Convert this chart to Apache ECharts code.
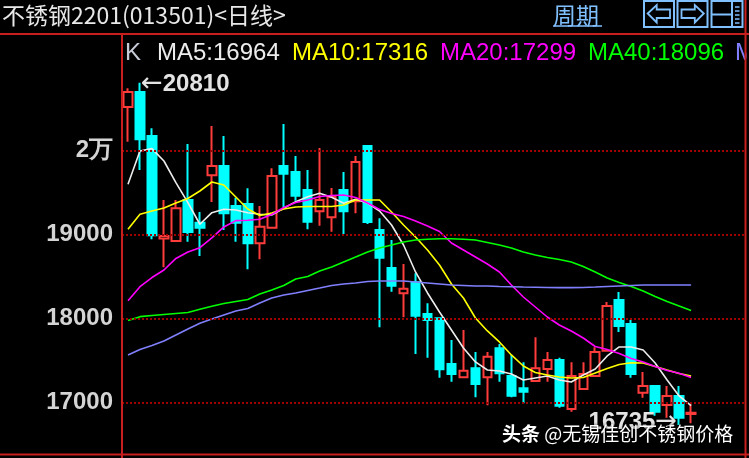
<!DOCTYPE html>
<html><head><meta charset="utf-8">
<script src="https://cdn.jsdelivr.net/npm/echarts@6/dist/echarts.min.js"></script>
<style>html,body{margin:0;padding:0;background:#000;}#c{width:749px;height:458px;}</style>
</head><body><div id="c"></div>
<script>
const titleText = '不锈钢2201(013501)<日线>';
const periodText = '周期';
const watermarkBold = '头条';
const watermarkText = ' @无锡佳创不锈钢价格';
// [open, close, lowest, highest]
const ohlc = [
  [20520,20699,20107,20743],[20699,20136,19770,20810],[20175,18993,18945,20267],[18955,18985,18612,19413],
  [18925,19314,18920,19413],[19413,19032,18917,20080],[19143,19083,18746,19270],[19707,19818,19389,20294],
  [19818,19255,19056,20175],[19342,19143,18917,19440],[19365,18898,18588,19552],[18898,19095,18707,19342],
  [19083,19699,19083,19790],[19818,19726,19326,20318],[19746,19464,19405,19937],[19532,19155,19064,19770],
  [19279,19413,19107,20032],[19207,19452,19036,19556],[19532,19279,19008,19746],[19398,19865,19255,19937],
  [20056,19151,19127,20056],[19056,18726,17898,19195],[18604,18393,18321,18937],[18302,18357,18017,18651],
  [18433,18036,17580,18540],[18056,17985,17536,18183],[18005,17398,17298,18005],[17461,17342,17250,17746],
  [17302,17381,17302,17865],[17410,17223,17064,17603],[17302,17548,16969,17603],[17648,17350,17250,17699],
  [17318,17083,17064,17568],[17171,17131,16993,17481],[17258,17410,17258,17779],[17401,17508,17250,17603],
  [17508,16964,16940,17536],[16925,17318,16893,17481],[17163,17342,17163,17481],[17318,17603,17318,17660],
  [17619,18151,17619,18199],[18223,17913,17842,18318],[17937,17342,17298,17985],[17119,17199,17060,17365],
  [17199,16893,16845,17199],[16973,17080,16821,17199],[17080,16821,16735,17199],[16865,16880,16755,16981]
];
const ma5 = [19600,19996,20024,19877,19619,19381,19124,19262,19302,19294,19262,19243,19235,19314,19393,19452,
  19493,19445,19374,19421,19377,19282,19115,18877,18556,18306,18079,17865,17651,17485,17389,17377,
  17342,17270,17294,17318,17270,17246,17330,17401,17556,17663,17663,17627,17473,17270,17080,16964];
const ma10 = [19064,19243,19282,19318,19377,19431,19520,19627,19592,19449,19306,19229,19258,19306,19330,19336,
  19336,19336,19354,19413,19413,19413,19270,19115,18973,18818,18639,18413,18246,18008,17854,17723,
  17568,17437,17360,17330,17306,17294,17300,17353,17407,17455,17476,17473,17431,17389,17348,17316];
const ma20 = [18214,18381,18490,18580,18717,18794,18845,18961,19092,19167,19171,19183,19240,19324,19383,19413,
  19455,19467,19473,19443,19377,19300,19252,19217,19163,19104,19038,18901,18818,18735,18651,18556,
  18401,18258,18139,18020,17925,17854,17770,17669,17633,17586,17526,17485,17431,17383,17350,17299];
const ma40 = [17979,18024,18038,18050,18062,18074,18112,18148,18181,18205,18229,18294,18342,18395,18473,18502,
  18568,18615,18675,18735,18794,18842,18877,18913,18937,18945,18952,18952,18945,18937,18907,18877,
  18842,18794,18758,18729,18705,18675,18621,18556,18485,18431,18383,18330,18264,18205,18151,18096];
const ma60 = [17568,17633,17681,17735,17806,17877,17945,17996,18044,18092,18121,18187,18246,18282,18306,18336,
  18365,18395,18413,18425,18443,18449,18449,18449,18437,18425,18413,18401,18395,18389,18389,18383,
  18380,18377,18375,18372,18370,18370,18372,18377,18383,18389,18395,18401,18401,18401,18401,18401];
const tickValues = [17000, 18000, 19000, 20000];
const tickLabels = ['17000', '18000', '19000', '2万'];
const maNames = ['MA5', 'MA10', 'MA20', 'MA40', 'MA60'];
const emptySlots = ['e1', 'e2', 'e3', 'e4'];
const categories = ohlc.map((d, i) => 'k' + (i + 1)).concat(emptySlots);

const maColors = ['#ececec', '#ffff00', '#ff00ff', '#00ff00', '#8080ff'];
const maData = [ma5, ma10, ma20, ma40, ma60];
const legendX = [157, 292, 440, 588, 735];
const RED = '#c81e1e';
const BLUE = '#80c0ff';

const chart = echarts.init(document.getElementById('c'), null, {renderer: 'canvas'});

const graphics = [];
// title
graphics.push({type: 'text', z: 100, style: {text: titleText, x: 2, y: 15, fill: '#e8e8e8',
  font: '23px "Noto Sans CJK SC"', textAlign: 'left', textVerticalAlign: 'middle', align: 'left', verticalAlign: 'middle'}});
graphics.push({type: 'text', z: 100, style: {text: periodText, x: 553, y: 15, fill: BLUE,
  font: '23px "Noto Sans CJK SC"', textAlign: 'left', textVerticalAlign: 'middle', align: 'left', verticalAlign: 'middle'}});
graphics.push({type: 'line', z: 100, shape: {x1: 553, y1: 26, x2: 602, y2: 26}, style: {stroke: BLUE, lineWidth: 1.5}});
// buttons
[[644, 30], [677.5, 30], [711.5, 31]].forEach(b => {
  graphics.push({type: 'rect', z: 100, shape: {x: b[0], y: 1, width: b[1], height: 26}, style: {fill: 'none', stroke: BLUE, lineWidth: 2}});
});
graphics.push({type: 'polygon', z: 100, shape: {points: [[647.7,13.5],[656.7,5],[656.7,9.5],[670,9.5],[670,18],[656.7,18],[656.7,22.5]]},
  style: {fill: 'none', stroke: BLUE, lineWidth: 1.8}});
graphics.push({type: 'polygon', z: 100, shape: {points: [[703.8,13.5],[694.8,5],[694.8,9.5],[681.5,9.5],[681.5,18],[694.8,18],[694.8,22.5]]},
  style: {fill: 'none', stroke: BLUE, lineWidth: 1.8}});
graphics.push({type: 'line', z: 100, shape: {x1: 712, y1: 14.5, x2: 732, y2: 14.5}, style: {stroke: BLUE, lineWidth: 2}});
graphics.push({type: 'line', z: 100, shape: {x1: 732, y1: 1, x2: 732, y2: 27}, style: {stroke: BLUE, lineWidth: 2}});
[7, 11, 15, 19, 23].forEach(yy => {
  graphics.push({type: 'line', z: 100, shape: {x1: 735, y1: yy, x2: 739.5, y2: yy}, style: {stroke: BLUE, lineWidth: 1.5}});
});
// legend
graphics.push({type: 'text', z: 100, style: {text: 'K', x: 125, y: 53, fill: '#c8ccd8',
  font: '24px "Liberation Sans"', textAlign: 'left', textVerticalAlign: 'middle', align: 'left', verticalAlign: 'middle'}});
maNames.forEach((n, i) => {
  const arr = maData[i];
  graphics.push({type: 'text', z: 100, style: {text: n + ':' + arr[arr.length - 1], x: legendX[i], y: 53, fill: maColors[i],
    font: '24px "Liberation Sans"', textAlign: 'left', textVerticalAlign: 'middle', align: 'left', verticalAlign: 'middle'}});
});
// watermark
graphics.push({type: 'text', z: 120, style: {
  text: '{b|' + watermarkBold + '}{n|' + watermarkText + '}', x: 502, y: 434,
  textAlign: 'left', textVerticalAlign: 'middle', align: 'left', verticalAlign: 'middle',
  rich: {
    b: {fontFamily: 'Noto Sans CJK SC', fontSize: 19, fontWeight: 'bold', fill: '#ffffff', color: '#ffffff',
        textShadowColor: 'rgba(0,0,0,0.9)', textShadowBlur: 3},
    n: {fontFamily: 'Noto Sans CJK SC', fontSize: 19, fill: '#ffffff', color: '#ffffff',
        textShadowColor: 'rgba(0,0,0,0.9)', textShadowBlur: 3}
  }}});
// frame
graphics.push({type: 'rect', z: 110, shape: {x: 746.5, y: 35, width: 3, height: 418}, style: {fill: '#000'}});
graphics.push({type: 'line', z: 130, shape: {x1: 0, y1: 34, x2: 749, y2: 34}, style: {stroke: RED, lineWidth: 2}});
graphics.push({type: 'line', z: 130, shape: {x1: 0, y1: 454.5, x2: 749, y2: 454.5}, style: {stroke: RED, lineWidth: 2}});
graphics.push({type: 'line', z: 130, shape: {x1: 122, y1: 34, x2: 122, y2: 458}, style: {stroke: RED, lineWidth: 2}});
graphics.push({type: 'line', z: 130, shape: {x1: 745.5, y1: 0, x2: 745.5, y2: 458}, style: {stroke: RED, lineWidth: 2}});

const extremeLabelStyle = {
  v: {color: '#e4e4e4', fontFamily: 'Liberation Sans', fontSize: 24, fontWeight: 'bold'},
  a: {color: '#e4e4e4', fontFamily: 'DejaVu Sans', fontSize: 26, fontWeight: 'normal'}
};

const series = [
  {
    type: 'line', data: [], z: 1, silent: true,
    markLine: {
      silent: true, symbol: ['none', 'none'], animation: false,
      lineStyle: {color: '#a00000', type: [2, 2], width: 2},
      label: {show: true, position: 'start', distance: 9, color: '#d4d4d4',
        fontFamily: 'Liberation Sans', fontSize: 24, fontWeight: 'bold',
        formatter: p => tickLabels[tickValues.indexOf(p.value)]},
      data: tickValues.map(v => ({yAxis: v}))
    }
  },
  {
    type: 'candlestick', data: ohlc, z: 2, barWidth: 9,
    itemStyle: {color: '#000000', color0: '#00ffff', borderColor: '#ff3c3c', borderColor0: '#00ffff', borderWidth: 2},
    markPoint: {
      symbol: 'circle', symbolSize: 2, itemStyle: {color: 'transparent'}, animation: false,
      label: {show: true, rich: extremeLabelStyle},
      data: [
        {type: 'max', valueDim: 'highest', label: {position: 'right', distance: 0, offset: [0, 2], formatter: p => '{a|←}{v|' + p.value + '}'}},
        {type: 'min', valueDim: 'lowest', label: {position: 'left', distance: 1, offset: [0, -3], formatter: p => '{v|' + p.value + '}{a|→}'}}
      ]
    }
  }
];
maData.forEach((arr, i) => {
  series.push({type: 'line', data: arr, z: 3, symbol: 'none', silent: true,
    lineStyle: {color: maColors[i], width: 1.6}});
});

chart.setOption({
  backgroundColor: '#000000',
  animation: false,
  grid: {left: 122, right: 4, top: 34, bottom: 4},
  xAxis: {type: 'category', data: categories, boundaryGap: true,
    axisLine: {show: false}, axisTick: {show: false}, axisLabel: {show: false}, splitLine: {show: false}},
  yAxis: {type: 'value', min: 16389, max: 21389,
    axisLine: {show: false}, axisTick: {show: false}, axisLabel: {show: false}, splitLine: {show: false}},
  graphic: {elements: graphics},
  series: series
});
</script></body></html>
